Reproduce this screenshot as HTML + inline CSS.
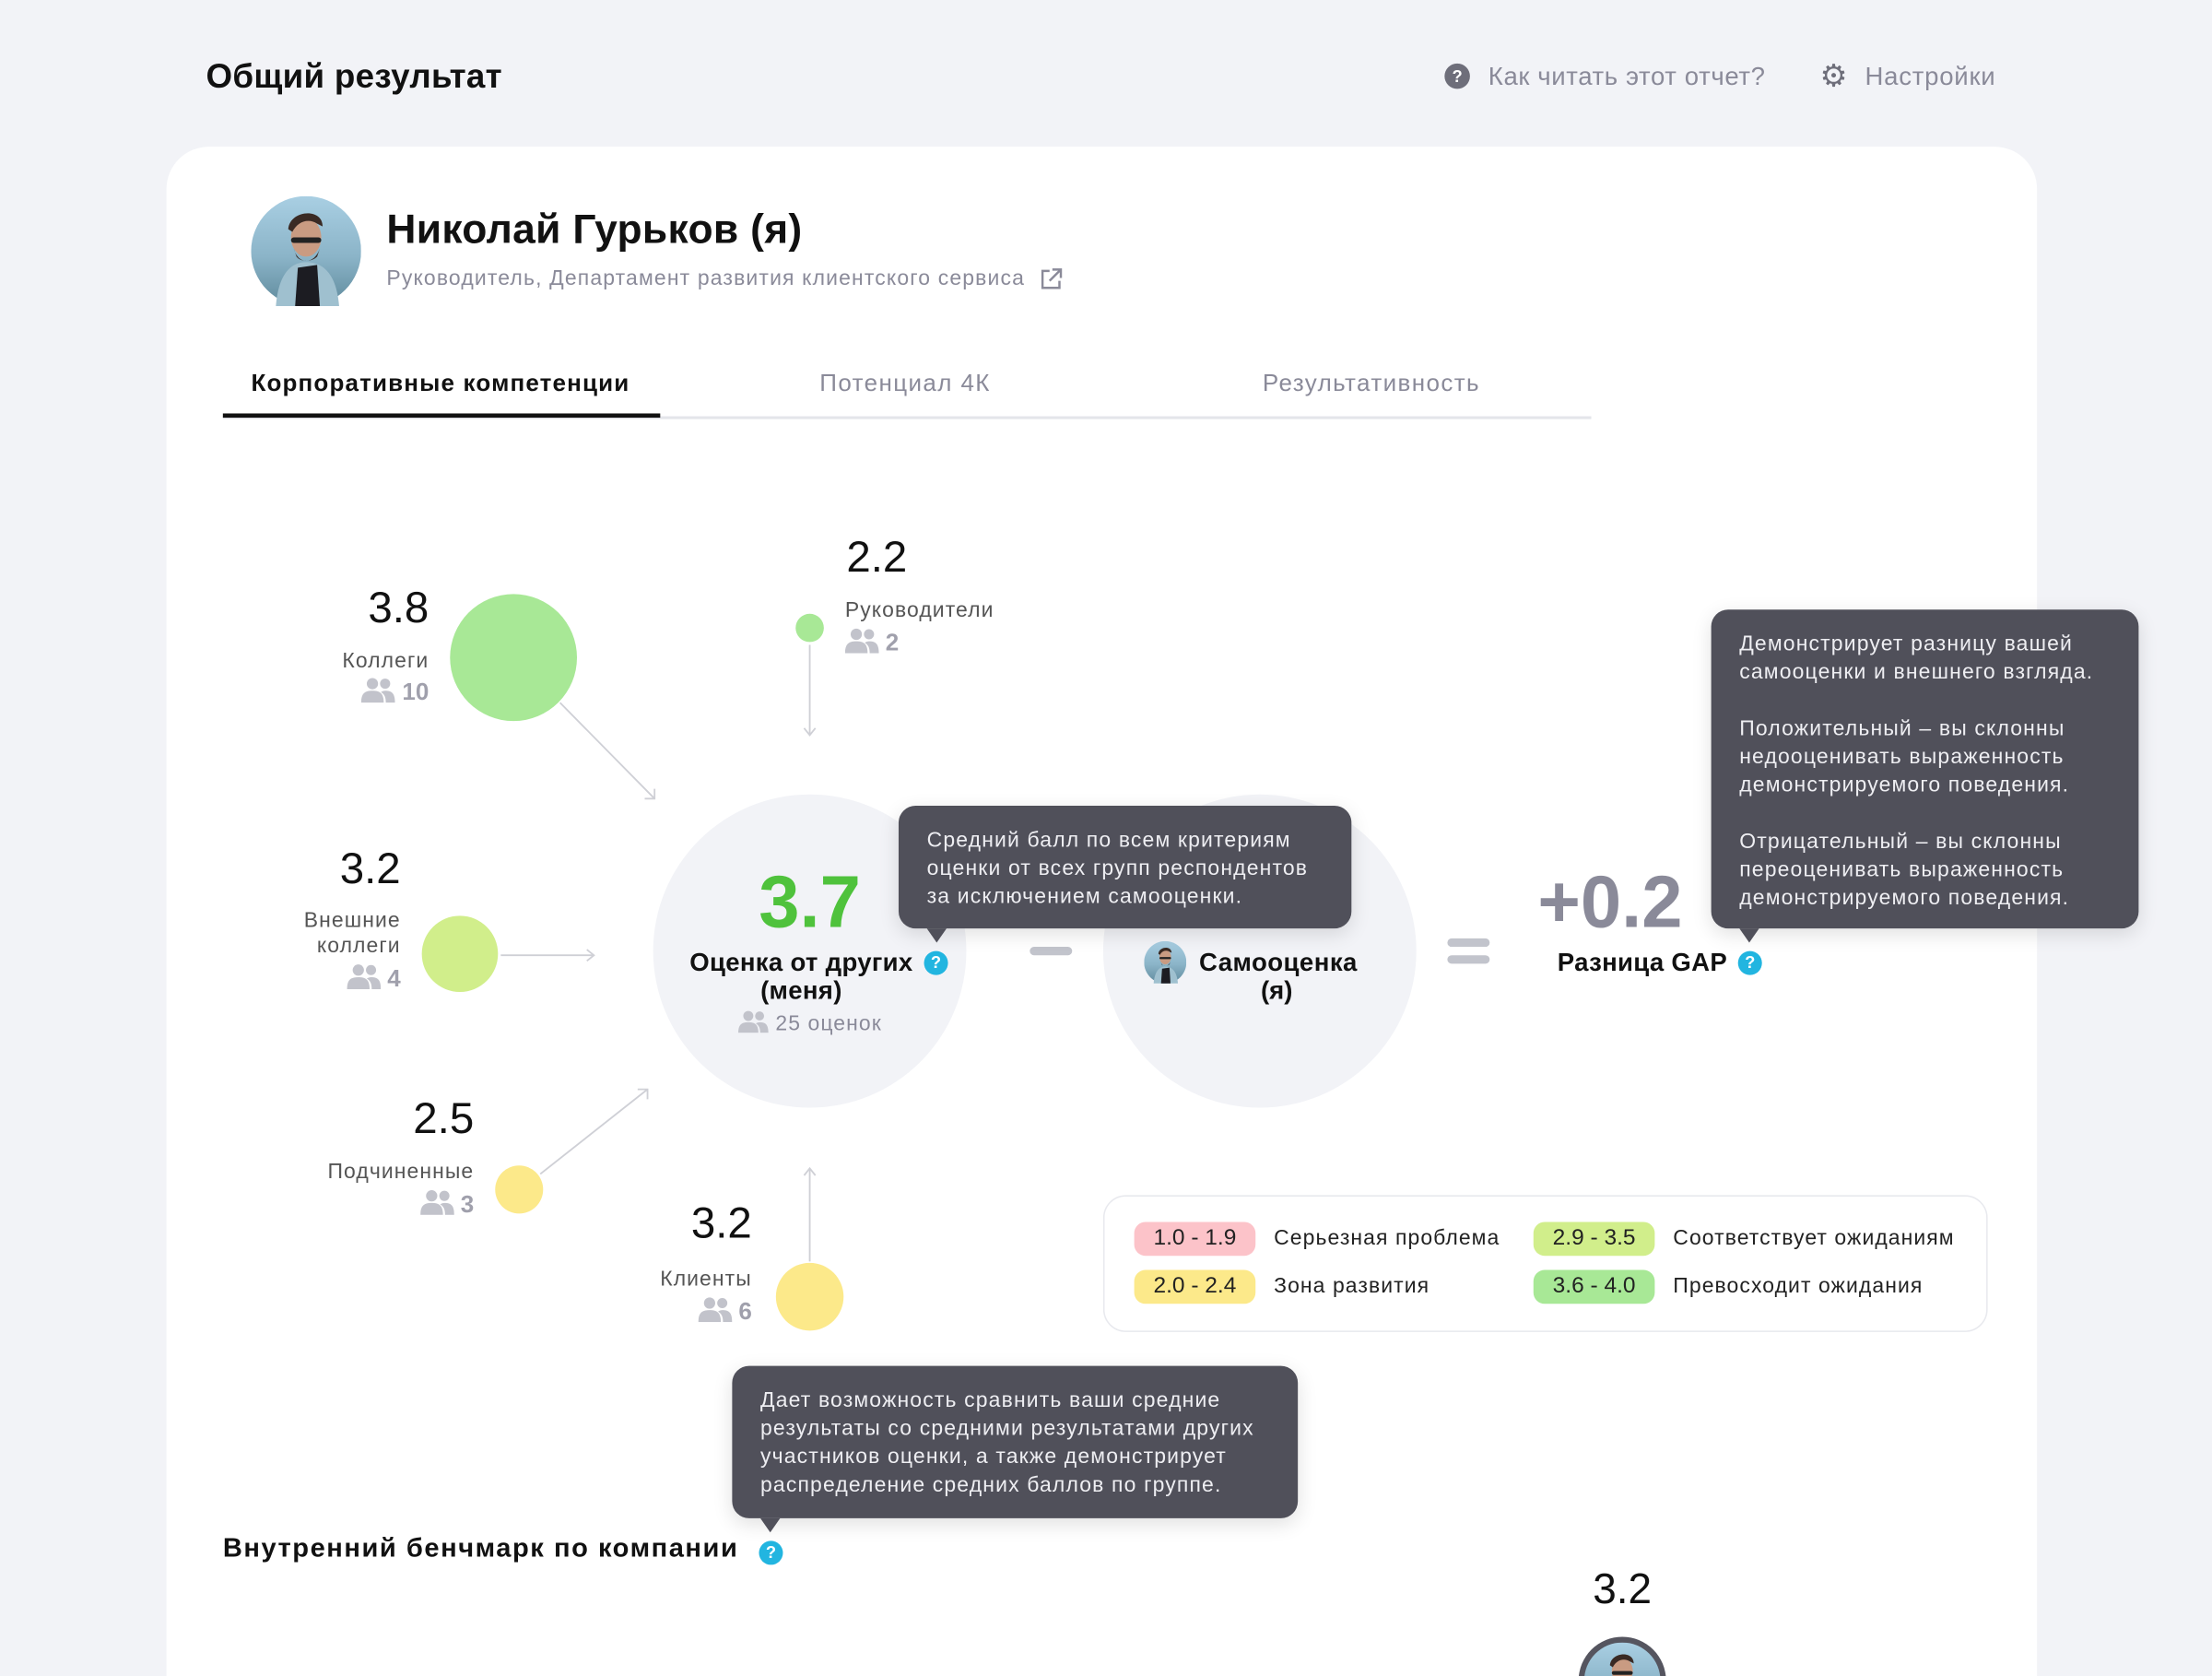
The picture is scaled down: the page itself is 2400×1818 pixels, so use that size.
<!DOCTYPE html>
<html><head><meta charset="utf-8">
<style>
html,body{margin:0;padding:0;}
body{width:2400px;height:1818px;overflow:hidden;background:#f2f3f7;font-family:"Liberation Sans",sans-serif;}
#w{position:absolute;left:0;top:0;width:1568px;height:1188px;overflow:hidden;transform:scale(1.5306);transform-origin:0 0;}
.a{position:absolute;white-space:nowrap;}
.g{color:#8a8a99;}
.b{font-weight:bold;}
.tip{position:absolute;background:#50505a;border-radius:12px;color:#eeeef2;font-size:15px;line-height:20px;letter-spacing:0.75px;box-shadow:0 4px 14px rgba(0,0,0,.12);}
.q{position:absolute;width:17px;height:17px;border-radius:50%;background:#22b5e0;color:#fff;font-size:12px;font-weight:bold;text-align:center;line-height:17px;letter-spacing:0;}
.pill{position:absolute;width:86px;height:24px;border-radius:8px;text-align:center;line-height:24px;font-size:16px;color:#222;}
.r{text-align:right;}
.lab{letter-spacing:0.7px;}
.arr{position:absolute;left:20px;bottom:-10px;width:0;height:0;border-left:7px solid transparent;border-right:7px solid transparent;border-top:10px solid #50505a;}
</style></head><body>
<div id="w">
<svg width="0" height="0" style="position:absolute"><defs>
<symbol id="ppl" viewBox="0 0 24 18"><circle cx="8" cy="4.5" r="4" fill="#c2c3cb"/><circle cx="17" cy="4.5" r="3.6" fill="#c2c3cb"/><path d="M0 18 C0 11 3 9.5 8 9.5 C13 9.5 16 11 16 18Z" fill="#c2c3cb"/><path d="M14 10.5 C15 9.8 16 9.5 17 9.5 C21.5 9.5 24 11 24 18 L17.5 18 C17.5 14 16.5 12 14 10.5Z" fill="#c2c3cb"/></symbol>
<symbol id="av" viewBox="0 0 80 80"><defs><linearGradient id="sky" x1="0" y1="0" x2="0" y2="1"><stop offset="0" stop-color="#a9cfe3"/><stop offset=".55" stop-color="#8bb4c8"/><stop offset="1" stop-color="#5f8a9c"/></linearGradient></defs><circle cx="40" cy="40" r="40" fill="url(#sky)"/><path d="M18 80 C20 55 30 48 40 48 C52 48 62 56 64 80Z" fill="#9fc0cf"/><path d="M32 80 L34 52 L48 50 L50 80Z" fill="#1c1c22"/><ellipse cx="40" cy="30" rx="11" ry="14" fill="#c99b82"/><path d="M27 24 C28 10 52 8 52 22 L48 20 C42 16 34 18 30 26Z" fill="#3a2a24"/><path d="M31 38 C34 50 46 50 50 38 L48 44 C44 48 36 48 33 44Z" fill="#3a2a24"/><rect x="29" y="30" width="22" height="4" rx="2" fill="#222"/></symbol>
</defs></svg>

<div class="a b" style="left:146px;top:40px;font-size:24px;line-height:30px;color:#111;letter-spacing:0.2px;">Общий результат</div>
<div class="a" style="left:1024px;top:45px;width:18px;height:18px;border-radius:50%;background:#6e6e7a;color:#fff;font-size:12px;font-weight:bold;text-align:center;line-height:18px;">?</div>
<div class="a g" style="left:1055px;top:42px;font-size:18px;line-height:24px;letter-spacing:0.4px;">Как читать этот отчет?</div>
<div class="a" style="left:1290px;top:42px;font-size:22px;line-height:24px;color:#6e6e7a;">⚙</div>
<div class="a g" style="left:1322px;top:42px;font-size:18px;line-height:24px;letter-spacing:0.5px;">Настройки</div>

<div class="a" style="left:118px;top:104px;width:1326px;height:1084px;background:#fff;border-radius:30px 30px 0 0;"></div>

<svg class="a" style="left:178px;top:139px" width="78" height="78"><use href="#av" width="78" height="78"/></svg>
<div class="a" style="left:274px;top:145px;font-size:29px;line-height:36px;color:#111;font-weight:bold;letter-spacing:0.2px;">Николай Гурьков (я)</div>
<div class="a g" style="left:274px;top:188px;font-size:15px;line-height:20px;letter-spacing:0.75px;">Руководитель, Департамент развития клиентского сервиса</div>
<svg class="a" style="left:736px;top:189px" width="18" height="18" viewBox="0 0 18 18" fill="none" stroke="#8a8a99" stroke-width="1.6"><path d="M8 3H3v12h12v-5"/><path d="M10 2h6v6M16 2L8 10"/></svg>

<div class="a b" style="left:178px;top:261px;font-size:17px;line-height:22px;color:#111;letter-spacing:0.75px;">Корпоративные компетенции</div>
<div class="a g" style="left:581px;top:261px;font-size:17px;line-height:22px;letter-spacing:0.9px;">Потенциал 4К</div>
<div class="a g" style="left:895px;top:261px;font-size:17px;line-height:22px;letter-spacing:0.9px;">Результативность</div>
<div class="a" style="left:158px;top:295px;width:970px;height:2px;background:#e4e5ea;"></div>
<div class="a" style="left:158px;top:293px;width:310px;height:3px;background:#111;"></div>

<svg class="a" style="left:0;top:0" width="1568" height="1188">
<g stroke="#cfd0d6" stroke-width="1.2" fill="none">
<line x1="397" y1="498" x2="464" y2="566"/><path d="M457 566h7v-7"/>
<line x1="574" y1="457" x2="574" y2="521"/><path d="M570 516l4 5 4-5"/>
<line x1="355" y1="677" x2="421" y2="677"/><path d="M416 673l5 4-5 4"/>
<line x1="383" y1="832" x2="459" y2="772"/><path d="M452 772h7v7"/>
<line x1="574" y1="894" x2="574" y2="828"/><path d="M570 833l4-5 4 5"/>
</g>
<circle cx="364" cy="466" r="45" fill="#a8e896"/>
<circle cx="574" cy="445" r="10" fill="#a8e896"/>
<circle cx="326" cy="676" r="27" fill="#d1ee8b"/>
<circle cx="368" cy="843" r="17" fill="#fce98a"/>
<circle cx="574" cy="919" r="24" fill="#fce98a"/>
<circle cx="574" cy="674" r="111" fill="#f2f3f7"/>
<circle cx="893" cy="674" r="111" fill="#f2f3f7"/>
<text x="893" y="650" text-anchor="middle" font-family="Liberation Sans" font-size="52" font-weight="bold" fill="#4fc23c">3.5</text>
<rect x="730" y="671" width="30" height="6" rx="3" fill="#c2c4cc"/>
<rect x="1026" y="665" width="30" height="6" rx="3" fill="#c2c4cc"/>
<rect x="1026" y="677" width="30" height="6" rx="3" fill="#c2c4cc"/>
</svg>

<div class="a r" style="left:200px;width:104px;top:413px;font-size:31px;line-height:36px;color:#111;">3.8</div>
<div class="a r lab" style="left:200px;width:104px;top:459px;font-size:15px;line-height:20px;color:#555;">Коллеги</div>
<div class="a r" style="left:200px;width:104px;top:480px;font-size:17px;line-height:20px;color:#a0a0ac;font-weight:bold;"><svg width="24" height="18" style="vertical-align:-2px"><use href="#ppl"/></svg> 10</div>

<div class="a" style="left:600px;top:377px;font-size:31px;line-height:36px;color:#111;">2.2</div>
<div class="a lab" style="left:599px;top:423px;font-size:15px;line-height:20px;color:#555;">Руководители</div>
<div class="a" style="left:599px;top:445px;font-size:17px;line-height:20px;color:#a0a0ac;font-weight:bold;"><svg width="24" height="18" style="vertical-align:-2px"><use href="#ppl"/></svg> 2</div>

<div class="a r" style="left:180px;width:104px;top:598px;font-size:31px;line-height:36px;color:#111;">3.2</div>
<div class="a r lab" style="left:180px;width:104px;top:644px;font-size:15px;line-height:18px;color:#555;">Внешние<br>коллеги</div>
<div class="a r" style="left:180px;width:104px;top:683px;font-size:17px;line-height:20px;color:#a0a0ac;font-weight:bold;"><svg width="24" height="18" style="vertical-align:-2px"><use href="#ppl"/></svg> 4</div>

<div class="a r" style="left:200px;width:136px;top:775px;font-size:31px;line-height:36px;color:#111;">2.5</div>
<div class="a r lab" style="left:200px;width:136px;top:821px;font-size:15px;line-height:20px;color:#555;">Подчиненные</div>
<div class="a r" style="left:200px;width:136px;top:843px;font-size:17px;line-height:20px;color:#a0a0ac;font-weight:bold;"><svg width="24" height="18" style="vertical-align:-2px"><use href="#ppl"/></svg> 3</div>

<div class="a r" style="left:420px;width:113px;top:849px;font-size:31px;line-height:36px;color:#111;">3.2</div>
<div class="a r lab" style="left:420px;width:113px;top:897px;font-size:15px;line-height:20px;color:#555;">Клиенты</div>
<div class="a r" style="left:420px;width:113px;top:919px;font-size:17px;line-height:20px;color:#a0a0ac;font-weight:bold;"><svg width="24" height="18" style="vertical-align:-2px"><use href="#ppl"/></svg> 6</div>

<div class="a b" style="left:474px;width:200px;text-align:center;top:610px;font-size:52px;line-height:60px;color:#4fc23c;">3.7</div>
<div class="a b" style="left:468px;width:200px;text-align:center;top:672px;font-size:18px;line-height:20px;color:#111;letter-spacing:0.2px;">Оценка от других<br>(меня)</div>
<div class="q" style="left:655px;top:674px;">?</div>
<div class="a lab" style="left:474px;width:200px;text-align:center;top:716px;font-size:15px;line-height:20px;color:#8a8a99;"><svg width="22" height="16" style="vertical-align:-2px"><use href="#ppl" width="22" height="16"/></svg> 25 оценок</div>

<svg class="a" style="left:811px;top:667px" width="30" height="30"><use href="#av" width="30" height="30"/></svg>
<div class="a b" style="left:850px;top:672px;font-size:18px;line-height:20px;color:#111;letter-spacing:0.3px;">Самооценка</div>
<div class="a b" style="left:850px;width:110px;text-align:center;top:692px;font-size:18px;line-height:20px;color:#111;">(я)</div>

<div class="a" style="left:1090px;top:610px;font-size:52px;line-height:60px;color:#8a8a99;font-weight:bold;">+0.2</div>
<div class="a b" style="left:1104px;top:672px;font-size:18px;line-height:20px;color:#111;letter-spacing:0.2px;">Разница GAP</div>
<div class="q" style="left:1232px;top:674px;">?</div>

<div class="tip" style="left:637px;top:571px;width:281px;height:67px;padding:15px 20px 5px 20px;">Средний балл по всем критериям<br>оценки от всех групп респондентов<br>за исключением самооценки.<span class="arr"></span></div>
<div class="tip" style="left:1213px;top:432px;width:263px;height:206px;padding:15px 20px 5px 20px;">Демонстрирует разницу вашей<br>самооценки и внешнего взгляда.<br><br>Положительный – вы склонны<br>недооценивать выраженность<br>демонстрируемого поведения.<br><br>Отрицательный – вы склонны<br>переоценивать выраженность<br>демонстрируемого поведения.<span class="arr"></span></div>
<div class="tip" style="left:519px;top:968px;width:361px;height:88px;padding:15px 20px 5px 20px;">Дает возможность сравнить ваши средние<br>результаты со средними результатами других<br>участников оценки, а также демонстрирует<br>распределение средних баллов по группе.<span class="arr"></span></div>

<div class="a" style="left:782px;top:847px;width:625px;height:95px;border:1px solid #e8e9ee;border-radius:16px;"></div>
<div class="pill" style="left:804px;top:866px;background:#fcc3c9;">1.0 - 1.9</div>
<div class="pill" style="left:804px;top:900px;background:#fce98a;">2.0 - 2.4</div>
<div class="pill" style="left:1087px;top:866px;background:#d1ee8b;">2.9 - 3.5</div>
<div class="pill" style="left:1087px;top:900px;background:#a8e896;">3.6 - 4.0</div>
<div class="a lab" style="left:903px;top:868px;font-size:15px;line-height:20px;color:#222;">Серьезная проблема</div>
<div class="a lab" style="left:903px;top:902px;font-size:15px;line-height:20px;color:#222;">Зона развития</div>
<div class="a lab" style="left:1186px;top:868px;font-size:15px;line-height:20px;color:#222;">Соответствует ожиданиям</div>
<div class="a lab" style="left:1186px;top:902px;font-size:15px;line-height:20px;color:#222;">Превосходит ожидания</div>

<div class="a b" style="left:158px;top:1086px;font-size:19px;line-height:24px;color:#111;letter-spacing:1px;">Внутренний бенчмарк по компании</div>
<div class="q" style="left:538px;top:1092px;">?</div>

<div class="a" style="left:1100px;width:100px;text-align:center;top:1109px;font-size:30px;line-height:36px;color:#111;">3.2</div>
<div class="a" style="left:1119px;top:1160px;width:62px;height:62px;border-radius:50%;background:#55555f;overflow:hidden;"><svg style="position:absolute;left:4px;top:4px" width="54" height="54"><use href="#av" width="54" height="54"/></svg></div>
</div>
</body></html>
